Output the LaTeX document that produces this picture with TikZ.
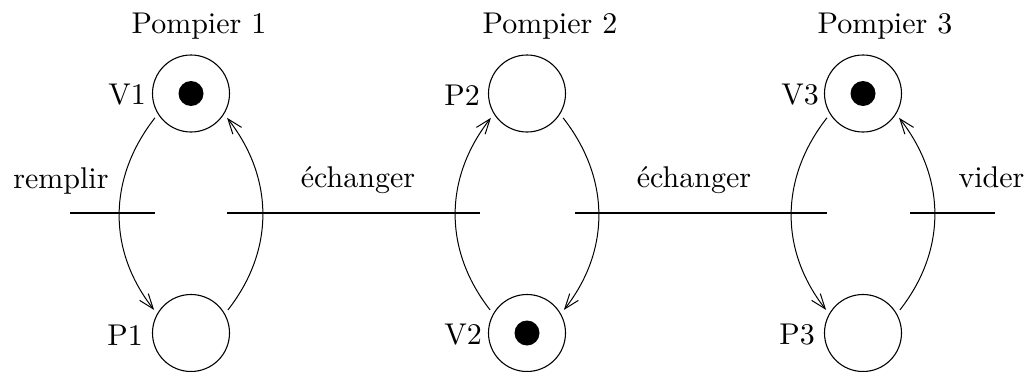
\documentclass[tikz,border=0pt]{standalone}
\usepackage{fontspec}
\setmainfont{lmroman10-regular.otf}
\usetikzlibrary{arrows.meta}
\begin{document}
\begin{tikzpicture}[x=1pt,y=-1pt,
  place/.style={circle,draw,line width=1.1pt,minimum size=77pt,inner sep=0pt,outer sep=5pt},
  token/.style={circle,fill=black,minimum size=25pt,inner sep=0pt},
  bar/.style={fill=black,inner sep=0pt,minimum height=2pt},
  arc/.style={line width=1pt},
  arr/.style={arc,-{Straight Barb[length=15pt,width=11pt]}},
  lbl/.style={inner sep=0pt,font=\fontsize{30}{36}\selectfont},
]
\useasboundingbox (0,0) rectangle (1031,372);
% places
\node[place] (V1) at (191,93.5) {};
\node[place] (P1) at (191,333) {};
\node[place] (P2) at (527,93.5) {};
\node[place] (V2) at (527,333) {};
\node[place] (V3) at (863,93.5) {};
\node[place] (P3) at (863,333) {};
% tokens
\node[token] (k1) at (V1) {};
\node[token] (k2) at (V2) {};
\node[token] (k3) at (V3) {};
% transitions
\node[bar,minimum width=85pt] (t1) at (112.5,213) {};
\node[bar,minimum width=253pt] (t2) at (353.5,213) {};
\node[bar,minimum width=252pt] (t3) at (701,213) {};
\node[bar,minimum width=85pt] (t4) at (952.5,213) {};
% arcs Pompier 1
\draw[arr] (V1.214) .. controls +(-47,60) and +(-47,-60) .. (P1.148);
\draw[arr] (P1.32) .. controls +(47,-60) and +(47,60) .. (V1.326);
% arcs Pompier 2
\draw[arr] (V2.148) .. controls +(-47,-60) and +(-47,60) .. (P2.214);
\draw[arr] (P2.326) .. controls +(47,60) and +(47,-60) .. (V2.32);
% arcs Pompier 3
\draw[arr] (V3.214) .. controls +(-47,60) and +(-47,-60) .. (P3.148);
\draw[arr] (P3.32) .. controls +(47,-60) and +(47,60) .. (V3.326);
% labels
\node[lbl,anchor=base] (n1) at (199,33) {Pompier 1};
\node[lbl,anchor=base] (n2) at (550,33) {Pompier 2};
\node[lbl,anchor=base] (n3) at (885,33) {Pompier 3};
\node[lbl,anchor=east] (lV1) at (146,95) {V1};
\node[lbl,anchor=east] (lP1) at (143,335) {P1};
\node[lbl,anchor=east] (lP2) at (480,95) {P2};
\node[lbl,anchor=east] (lV2) at (482,335) {V2};
\node[lbl,anchor=east] (lV3) at (819,95) {V3};
\node[lbl,anchor=east] (lP3) at (815,335) {P3};
\node[lbl,anchor=base] (r1) at (61,188) {remplir};
\node[lbl,anchor=base] (e1) at (358,187) {échanger};
\node[lbl,anchor=base] (e2) at (694,187) {échanger};
\node[lbl,anchor=base] (vd) at (991.5,187) {vider};
\end{tikzpicture}
\end{document}
